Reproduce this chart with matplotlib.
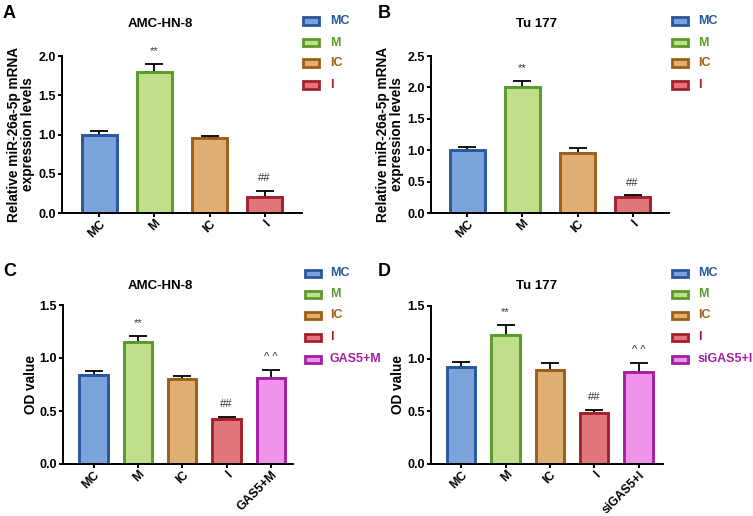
import matplotlib
matplotlib.use("Agg")
import matplotlib.pyplot as plt
from matplotlib.patches import Rectangle

plt.rcParams['font.family'] = ['Liberation Sans', 'DejaVu Sans']
plt.rcParams['font.weight'] = 'bold'

# ---- data ----
cats_ab = ["MC", "M", "IC", "I"]
vals_a = [1.00, 1.80, 0.96, 0.20]
errs_a = [0.04, 0.10, 0.02, 0.08]
vals_b = [1.00, 2.00, 0.96, 0.25]
errs_b = [0.05, 0.10, 0.08, 0.03]

cats_c = ["MC", "M", "IC", "I", "GAS5+M"]
vals_c = [0.84, 1.15, 0.80, 0.42, 0.81]
errs_c = [0.04, 0.06, 0.03, 0.02, 0.08]

cats_d = ["MC", "M", "IC", "I", "siGAS5+I"]
vals_d = [0.92, 1.22, 0.89, 0.48, 0.87]
errs_d = [0.05, 0.10, 0.07, 0.03, 0.09]

marks_ab = ["", "**", "", "##"]
marks_cd = ["", "**", "", "##", "^ ^"]

fills = ["#7BA3D9", "#BFDF8A", "#DFAF74", "#E0767A", "#EE95EA"]
edges = ["#2A56A0", "#5A9A2A", "#9E5E18", "#A5202C", "#A51FA5"]

W, H = 753, 516
fig = plt.figure(figsize=(W / 100, H / 100), dpi=100)


def rect(l, r, t, b):
    return [l / W, 1 - b / H, (r - l) / W, (b - t) / H]


panels = [
    dict(rect=rect(62, 302, 56, 213), cats=cats_ab, vals=vals_a, errs=errs_a,
         marks=marks_ab, xlim=(-0.68, 3.68), ylim=(0, 2.0), yticks=[0, 0.5, 1.0, 1.5, 2.0],
         title="AMC-HN-8", tx=160, ylabel="Relative miR-26a-5p mRNA\nexpression levels", ylx=21,
         letter="A", lx=3, ly=14, ty=24, legx=303, legtx=330, legy=[21, 43, 63, 85]),
    dict(rect=rect(431, 669, 56, 213), cats=cats_ab, vals=vals_b, errs=errs_b,
         marks=marks_ab, xlim=(-0.66, 3.66), ylim=(0, 2.5), yticks=[0, 0.5, 1.0, 1.5, 2.0, 2.5],
         title="Tu 177", tx=537, ylabel="Relative miR-26a-5p mRNA\nexpression levels", ylx=390,
         letter="B", lx=378, ly=14, ty=24, legx=672, legtx=698, legy=[21, 43, 63, 85]),
    dict(rect=rect(63, 293, 305, 464), cats=cats_c, vals=vals_c, errs=errs_c,
         marks=marks_cd, xlim=(-0.69, 4.5), ylim=(0, 1.5), yticks=[0, 0.5, 1.0, 1.5],
         title="AMC-HN-8", tx=160, ylabel="OD value", ylx=31,
         letter="C", lx=3, ly=272, ty=286, legx=305, legtx=330, legy=[273, 294, 315, 337, 359]),
    dict(rect=rect(431, 663, 306, 464), cats=cats_d, vals=vals_d, errs=errs_d,
         marks=marks_cd, xlim=(-0.68, 4.55), ylim=(0, 1.5), yticks=[0, 0.5, 1.0, 1.5],
         title="Tu 177", tx=537, ylabel="OD value", ylx=398,
         letter="D", lx=378, ly=272, ty=286, legx=672, legtx=698, legy=[273, 294, 315, 337, 359]),
]

for p in panels:
    ax = fig.add_axes(p["rect"])
    n = len(p["cats"])
    x = list(range(n))
    ax.bar(x, p["vals"], width=0.64, color=fills[:n], edgecolor=edges[:n],
           linewidth=2.1, zorder=2)
    ax.errorbar(x, p["vals"], yerr=[[0] * n, p["errs"]], fmt="none",
                ecolor="black", elinewidth=1.3, capsize=6.5, capthick=1.3, zorder=1)
    span = p["ylim"][1] - p["ylim"][0]
    for i, m in enumerate(p["marks"]):
        if m:
            ax.text(i, p["vals"][i] + p["errs"][i] + span * 0.05, m, ha="center",
                    va="bottom", fontsize=8, fontweight="normal", color="#333333")
    ax.set_xlim(*p["xlim"])
    ax.set_ylim(*p["ylim"])
    ax.set_yticks(p["yticks"])
    ax.set_yticklabels([f"{v:.1f}" for v in p["yticks"]], fontsize=9, fontweight="bold")
    ax.set_xticks(x)
    ax.set_xticklabels(p["cats"], rotation=45, ha="right", rotation_mode="anchor",
                       fontsize=8.8, fontweight="bold")
    for s in ["top", "right"]:
        ax.spines[s].set_visible(False)
    for s in ["left", "bottom"]:
        ax.spines[s].set_linewidth(1.4)
    ax.tick_params(axis="both", width=1.4, length=3, direction="out", pad=1.2)
    ax.tick_params(axis="x", pad=0.5)
    ax.set_ylabel(p["ylabel"], fontsize=9.8, fontweight="bold", linespacing=1.0)
    l, r = p["rect"][0] * W, (p["rect"][0] + p["rect"][2]) * W
    ax.yaxis.set_label_coords((p["ylx"] - l) / (r - l), 0.5)
    ax.yaxis.label.set_va("center")
    fig.text(p["tx"] / W, 1 - p["ty"] / H, p["title"], ha="center", va="center",
             fontsize=9.5, fontweight="bold")
    fig.text(p["lx"] / W, 1 - p["ly"] / H, p["letter"], ha="left", va="center",
             fontsize=13, fontweight="bold")
    for i in range(n):
        yc = p["legy"][i]
        fig.patches.append(Rectangle((p["legx"] / W, 1 - (yc + 3.5) / H), 16 / W, 7 / H,
                                     transform=fig.transFigure, facecolor=fills[i],
                                     edgecolor=edges[i], linewidth=2.0))
        fig.text(p["legtx"] / W, 1 - yc / H, p["cats"][i], ha="left", va="center",
                 fontsize=9, fontweight="bold", color=edges[i])

fig.savefig("out.png", dpi=100)
